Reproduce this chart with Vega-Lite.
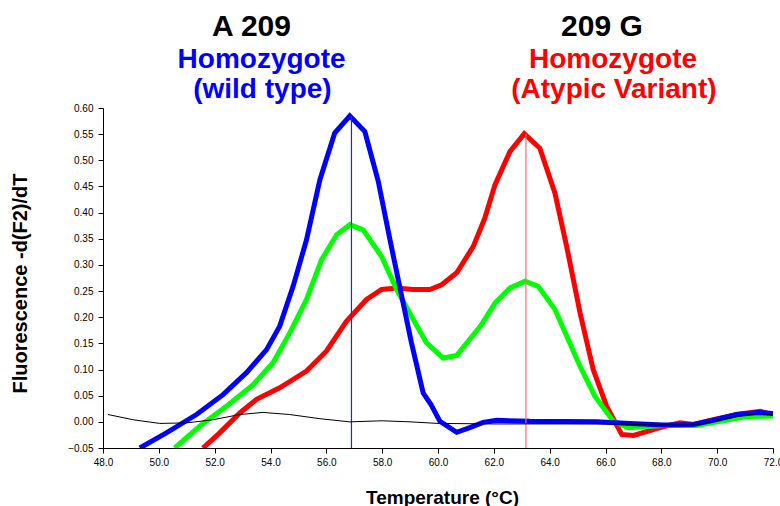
{
  "$schema": "https://vega.github.io/schema/vega-lite/v6.json",
  "width": 670,
  "height": 340,
  "autosize": "none",
  "padding": {"left": 103, "top": 108, "right": 7, "bottom": 58},
  "background": "white",
  "config": {
    "view": {"stroke": null},
    "font": "Liberation Sans",
    "axis": {
      "grid": false,
      "domainColor": "#000000",
      "tickColor": "#000000",
      "labelColor": "#000000",
      "titleColor": "#000000",
      "labelFont": "Liberation Sans",
      "labelFontSize": 10,
      "titleFont": "Liberation Sans",
      "titleFontSize": 19,
      "titleFontWeight": "bold",
      "tickSize": 5,
      "labelFlush": false,
      "labelOverlap": false,
      "labelBound": false
    }
  },
  "resolve": {"scale": {"color": "independent"}},
  "datasets": {
    "curves": [
      {"sample": "red", "t": 51.58, "v": -0.05},
      {"sample": "red", "t": 52.18, "v": -0.021},
      {"sample": "red", "t": 52.9, "v": 0.017},
      {"sample": "red", "t": 53.5, "v": 0.043},
      {"sample": "red", "t": 54.33, "v": 0.065},
      {"sample": "red", "t": 55.29, "v": 0.097},
      {"sample": "red", "t": 56.0, "v": 0.135},
      {"sample": "red", "t": 56.72, "v": 0.192},
      {"sample": "red", "t": 57.44, "v": 0.234},
      {"sample": "red", "t": 57.98, "v": 0.253},
      {"sample": "red", "t": 58.52, "v": 0.256},
      {"sample": "red", "t": 59.1, "v": 0.253},
      {"sample": "red", "t": 59.71, "v": 0.253},
      {"sample": "red", "t": 60.13, "v": 0.262},
      {"sample": "red", "t": 60.67, "v": 0.285},
      {"sample": "red", "t": 61.26, "v": 0.335},
      {"sample": "red", "t": 61.68, "v": 0.39},
      {"sample": "red", "t": 62.04, "v": 0.453},
      {"sample": "red", "t": 62.58, "v": 0.517},
      {"sample": "red", "t": 63.09, "v": 0.551},
      {"sample": "red", "t": 63.65, "v": 0.523},
      {"sample": "red", "t": 64.19, "v": 0.437},
      {"sample": "red", "t": 64.61, "v": 0.335},
      {"sample": "red", "t": 65.09, "v": 0.208},
      {"sample": "red", "t": 65.56, "v": 0.1},
      {"sample": "red", "t": 66.04, "v": 0.03},
      {"sample": "red", "t": 66.58, "v": -0.024},
      {"sample": "red", "t": 67.0, "v": -0.026},
      {"sample": "red", "t": 67.95, "v": -0.011},
      {"sample": "red", "t": 68.67, "v": -0.002},
      {"sample": "red", "t": 69.15, "v": -0.005},
      {"sample": "red", "t": 69.86, "v": 0.004},
      {"sample": "red", "t": 70.7, "v": 0.014},
      {"sample": "red", "t": 71.54, "v": 0.02},
      {"sample": "red", "t": 72.0, "v": 0.014},
      {"sample": "green", "t": 50.57, "v": -0.05},
      {"sample": "green", "t": 51.47, "v": -0.008},
      {"sample": "green", "t": 52.42, "v": 0.03},
      {"sample": "green", "t": 53.38, "v": 0.071},
      {"sample": "green", "t": 54.09, "v": 0.113},
      {"sample": "green", "t": 54.69, "v": 0.17},
      {"sample": "green", "t": 55.29, "v": 0.234},
      {"sample": "green", "t": 55.83, "v": 0.31},
      {"sample": "green", "t": 56.37, "v": 0.358},
      {"sample": "green", "t": 56.84, "v": 0.377},
      {"sample": "green", "t": 57.32, "v": 0.367},
      {"sample": "green", "t": 57.98, "v": 0.316},
      {"sample": "green", "t": 58.52, "v": 0.253},
      {"sample": "green", "t": 59.05, "v": 0.202},
      {"sample": "green", "t": 59.59, "v": 0.151},
      {"sample": "green", "t": 60.19, "v": 0.122},
      {"sample": "green", "t": 60.67, "v": 0.127},
      {"sample": "green", "t": 61.08, "v": 0.154},
      {"sample": "green", "t": 61.56, "v": 0.186},
      {"sample": "green", "t": 62.04, "v": 0.227},
      {"sample": "green", "t": 62.58, "v": 0.256},
      {"sample": "green", "t": 63.12, "v": 0.269},
      {"sample": "green", "t": 63.59, "v": 0.259},
      {"sample": "green", "t": 64.19, "v": 0.215},
      {"sample": "green", "t": 64.61, "v": 0.164},
      {"sample": "green", "t": 65.09, "v": 0.106},
      {"sample": "green", "t": 65.62, "v": 0.049},
      {"sample": "green", "t": 66.28, "v": 0.001},
      {"sample": "green", "t": 66.82, "v": -0.011},
      {"sample": "green", "t": 68.07, "v": -0.007},
      {"sample": "green", "t": 69.27, "v": -0.007},
      {"sample": "green", "t": 70.1, "v": 0.001},
      {"sample": "green", "t": 71.06, "v": 0.01},
      {"sample": "green", "t": 72.0, "v": 0.011},
      {"sample": "blue", "t": 49.32, "v": -0.05},
      {"sample": "blue", "t": 50.27, "v": -0.021},
      {"sample": "blue", "t": 51.35, "v": 0.014},
      {"sample": "blue", "t": 52.3, "v": 0.052},
      {"sample": "blue", "t": 53.14, "v": 0.094},
      {"sample": "blue", "t": 53.86, "v": 0.138},
      {"sample": "blue", "t": 54.33, "v": 0.183},
      {"sample": "blue", "t": 54.81, "v": 0.259},
      {"sample": "blue", "t": 55.29, "v": 0.348},
      {"sample": "blue", "t": 55.77, "v": 0.463},
      {"sample": "blue", "t": 56.3, "v": 0.552},
      {"sample": "blue", "t": 56.84, "v": 0.585},
      {"sample": "blue", "t": 57.38, "v": 0.555},
      {"sample": "blue", "t": 57.86, "v": 0.46},
      {"sample": "blue", "t": 58.28, "v": 0.348},
      {"sample": "blue", "t": 58.7, "v": 0.24},
      {"sample": "blue", "t": 59.05, "v": 0.151},
      {"sample": "blue", "t": 59.47, "v": 0.055},
      {"sample": "blue", "t": 59.75, "v": 0.033},
      {"sample": "blue", "t": 60.07, "v": 0.001},
      {"sample": "blue", "t": 60.67, "v": -0.02},
      {"sample": "blue", "t": 61.14, "v": -0.011},
      {"sample": "blue", "t": 61.62, "v": -0.001},
      {"sample": "blue", "t": 62.1, "v": 0.003},
      {"sample": "blue", "t": 63.29, "v": 0.001},
      {"sample": "blue", "t": 65.68, "v": 0.0},
      {"sample": "blue", "t": 66.88, "v": -0.003},
      {"sample": "blue", "t": 68.07, "v": -0.006},
      {"sample": "blue", "t": 69.15, "v": -0.005},
      {"sample": "blue", "t": 69.86, "v": 0.003},
      {"sample": "blue", "t": 70.7, "v": 0.014},
      {"sample": "blue", "t": 71.48, "v": 0.018},
      {"sample": "blue", "t": 72.0, "v": 0.016}
    ],
    "control": [
      {"t": 48.18, "v": 0.014},
      {"t": 49.08, "v": 0.004},
      {"t": 50.03, "v": -0.003},
      {"t": 50.99, "v": -0.002},
      {"t": 51.94, "v": 0.004},
      {"t": 52.9, "v": 0.014},
      {"t": 53.73, "v": 0.018},
      {"t": 54.69, "v": 0.014},
      {"t": 55.77, "v": 0.006},
      {"t": 56.84, "v": 0.0},
      {"t": 58.0, "v": 0.002},
      {"t": 59.0, "v": 0.0},
      {"t": 60.0, "v": -0.003},
      {"t": 62.0, "v": -0.004},
      {"t": 64.0, "v": -0.004},
      {"t": 66.0, "v": -0.004},
      {"t": 68.0, "v": -0.006},
      {"t": 69.2, "v": -0.006},
      {"t": 70.0, "v": 0.002},
      {"t": 70.8, "v": 0.011},
      {"t": 71.5, "v": 0.016},
      {"t": 72.0, "v": 0.013}
    ],
    "peaks": [
      {"sample": "blue", "t": 56.9, "peak": 0.585},
      {"sample": "red", "t": 63.15, "peak": 0.551}
    ],
    "headers": [
      {"label": "A 209", "t": 53.32, "v": 0.737},
      {"label": "209 G", "t": 65.87, "v": 0.737}
    ],
    "subheaders": [
      {"sample": "blue", "label": "Homozygote", "t": 53.68, "v": 0.676},
      {"sample": "blue", "label": "(wild type)", "t": 53.71, "v": 0.619},
      {"sample": "red", "label": "Homozygote", "t": 66.27, "v": 0.676},
      {"sample": "red", "label": "(Atypic Variant)", "t": 66.3, "v": 0.619}
    ]
  },
  "layer": [
    {
      "data": {"name": "curves"},
      "mark": {"type": "line", "strokeWidth": 5, "clip": true},
      "encoding": {
        "x": {
          "field": "t",
          "type": "quantitative",
          "scale": {"domain": [48, 72], "nice": false, "zero": false},
          "axis": {
            "title": "Temperature (°C)",
            "values": [48, 50, 52, 54, 56, 58, 60, 62, 64, 66, 68, 70, 72],
            "tickCount": 30,
            "format": ".1f",
            "labelPadding": 4,
            "labelOverlap": false,
            "titleBaseline": "alphabetic",
            "titleX": 339,
            "titleY": 55
          }
        },
        "y": {
          "field": "v",
          "type": "quantitative",
          "scale": {"domain": [-0.05, 0.6], "nice": false, "zero": false},
          "axis": {
            "title": "Fluorescence -d(F2)/dT",
            "values": [-0.05, 0, 0.05, 0.1, 0.15, 0.2, 0.25, 0.3, 0.35, 0.4, 0.45, 0.5, 0.55, 0.6],
            "tickCount": 30,
            "format": ".2f",
            "labelPadding": 5,
            "labelOverlap": false,
            "titleFontSize": 20,
            "titleBaseline": "alphabetic",
            "titleX": -77,
            "titleY": 175
          }
        },
        "color": {
          "field": "sample",
          "type": "nominal",
          "scale": {"domain": ["red", "green", "blue"], "range": ["#ff0000", "#00ff00", "#0000ff"]},
          "legend": null
        }
      }
    },
    {
      "data": {"name": "peaks"},
      "mark": {"type": "rule", "strokeWidth": 1.2},
      "encoding": {
        "x": {"field": "t", "type": "quantitative"},
        "y": {"field": "peak", "type": "quantitative"},
        "y2": {"datum": -0.05},
        "color": {
          "field": "sample",
          "type": "nominal",
          "scale": {"domain": ["red", "blue"], "range": ["#f26d6d", "#2020ff"]},
          "legend": null
        }
      }
    },
    {
      "data": {"name": "control"},
      "mark": {"type": "line", "strokeWidth": 1, "color": "#000000"},
      "encoding": {
        "x": {"field": "t", "type": "quantitative"},
        "y": {"field": "v", "type": "quantitative"}
      }
    },
    {
      "data": {"name": "headers"},
      "mark": {"type": "text", "fontSize": 30, "fontWeight": "bold", "font": "Liberation Sans", "color": "#000000", "align": "center", "baseline": "alphabetic"},
      "encoding": {
        "x": {"field": "t", "type": "quantitative"},
        "y": {"field": "v", "type": "quantitative"},
        "text": {"field": "label", "type": "nominal"}
      }
    },
    {
      "data": {"name": "subheaders"},
      "mark": {"type": "text", "fontSize": 28, "fontWeight": "bold", "font": "Liberation Sans", "align": "center", "baseline": "alphabetic"},
      "encoding": {
        "x": {"field": "t", "type": "quantitative"},
        "y": {"field": "v", "type": "quantitative"},
        "text": {"field": "label", "type": "nominal"},
        "color": {
          "field": "sample",
          "type": "nominal",
          "scale": {"domain": ["red", "blue"], "range": ["#ff0000", "#0000ff"]},
          "legend": null
        }
      }
    }
  ]
}
